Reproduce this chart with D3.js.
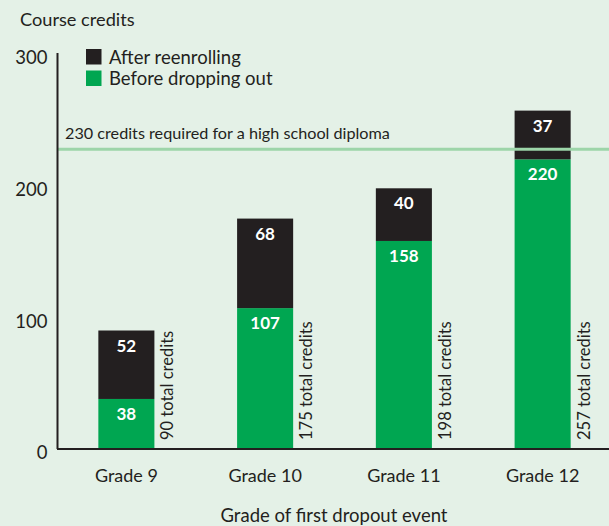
<!DOCTYPE html>
<html><head><meta charset="utf-8">
<script src="https://cdn.jsdelivr.net/npm/d3@7"></script>
<style>
html,body{margin:0;padding:0;background:#e4f1e7;}
svg{display:block;}
text{font-family:Lato,"Noto Sans",sans-serif;fill:#231f20;}
</style></head>
<body>
<script>
const grades = ["Grade 9", "Grade 10", "Grade 11", "Grade 12"];
const beforeDropping = [38, 107, 158, 220];
const afterReenrolling = [52, 68, 40, 37];
const totals = [90, 175, 198, 257];
const yTicks = [0, 100, 200, 300];
const diplomaCredits = 230;
const seriesNames = ["Before dropping out", "After reenrolling"];
const legendNames = ["After reenrolling", "Before dropping out"];

const W = 609, H = 526;
const colors = {"Before dropping out": "#00a651", "After reenrolling": "#231f20"};

const svg = d3.select("body").append("svg").attr("width", W).attr("height", H);
svg.append("rect").attr("width", W).attr("height", H).attr("fill", "#e4f1e7");

const x = d3.scaleBand().domain(grades).range([57, 612]).paddingInner(0.596).paddingOuter(0.298);
const y = d3.scaleLinear().domain([0, 300]).range([449, 54]);

const rows = grades.map((g, i) => ({grade: g, "Before dropping out": beforeDropping[i], "After reenrolling": afterReenrolling[i], total: totals[i]}));
const stack = d3.stack().keys(seriesNames)(rows);

// bars
const layers = svg.append("g").selectAll("g").data(stack).join("g").attr("fill", d => colors[d.key]);
layers.selectAll("rect").data(d => d).join("rect")
  .attr("x", d => x(d.data.grade))
  .attr("width", x.bandwidth())
  .attr("y", d => y(d[1]))
  .attr("height", d => y(d[0]) - y(d[1]));

// diploma line
svg.append("line").attr("x1", 58).attr("x2", W)
  .attr("y1", y(diplomaCredits) + 3).attr("y2", y(diplomaCredits) + 3)
  .attr("stroke", "#9dd5a9").attr("stroke-width", 3);
svg.append("text").attr("x", 65).attr("y", y(diplomaCredits) - 7)
  .attr("font-size", 16.2).text(diplomaCredits + " credits required for a high school diploma");

// value labels
stack.forEach(layer => {
  svg.append("g").selectAll("text").data(layer).join("text")
    .attr("x", d => x(d.data.grade) + x.bandwidth() / 2)
    .attr("y", d => y(d[1]) + 21)
    .attr("text-anchor", "middle")
    .attr("font-size", 17).attr("font-weight", "bold")
    .style("fill", "#ffffff")
    .text(d => d.data[layer.key]);
});

// total labels rotated
svg.append("g").selectAll("text").data(rows).join("text")
  .attr("transform", d => `translate(${x(d.grade) + x.bandwidth() + 19},${y(0) - 9}) rotate(-90)`)
  .attr("font-size", 16.5)
  .text(d => d.total + " total credits");

// axes
const yAxis = svg.append("g").attr("transform", "translate(57.5,0)")
  .call(d3.axisLeft(y).tickValues(yTicks).tickSize(0).tickPadding(10).tickFormat(d3.format("d")));
yAxis.select(".domain").attr("stroke", "#231f20").attr("stroke-width", 2).attr("d", `M0,${y(300) - 1}V${y(0)}`);
yAxis.selectAll("text").attr("font-size", 18.5).attr("dy", "0.7em").attr("y", -3)
  .attr("x", -10);

const xAxis = svg.append("g").attr("transform", `translate(0,${y(0)})`)
  .call(d3.axisBottom(x).tickSize(0).tickPadding(22));
xAxis.select(".domain").attr("stroke", "#231f20").attr("stroke-width", 2).attr("d", `M57,0H${W}`);
xAxis.selectAll("text").attr("font-size", 18).attr("dy", "0.71em").attr("y", 20);
svg.selectAll(".tick text").style("fill", "#231f20");
svg.selectAll("g").attr("font-family", null).attr("font-size", null);

// axis titles
svg.append("text").attr("x", 20).attr("y", 26).attr("font-size", 18.2).text("Course credits");
svg.append("text").attr("x", 334).attr("y", 522).attr("text-anchor", "middle").attr("font-size", 18.5).text("Grade of first dropout event");

// legend
const leg = svg.append("g");
legendNames.forEach((n, i) => {
  leg.append("rect").attr("x", 86).attr("y", 49 + i * 21.5).attr("width", 15.5).attr("height", 15.5).attr("fill", colors[n]);
  leg.append("text").attr("x", 109).attr("y", 64 + i * 21).attr("font-size", 18.5).text(n);
});
</script>
</body></html>
